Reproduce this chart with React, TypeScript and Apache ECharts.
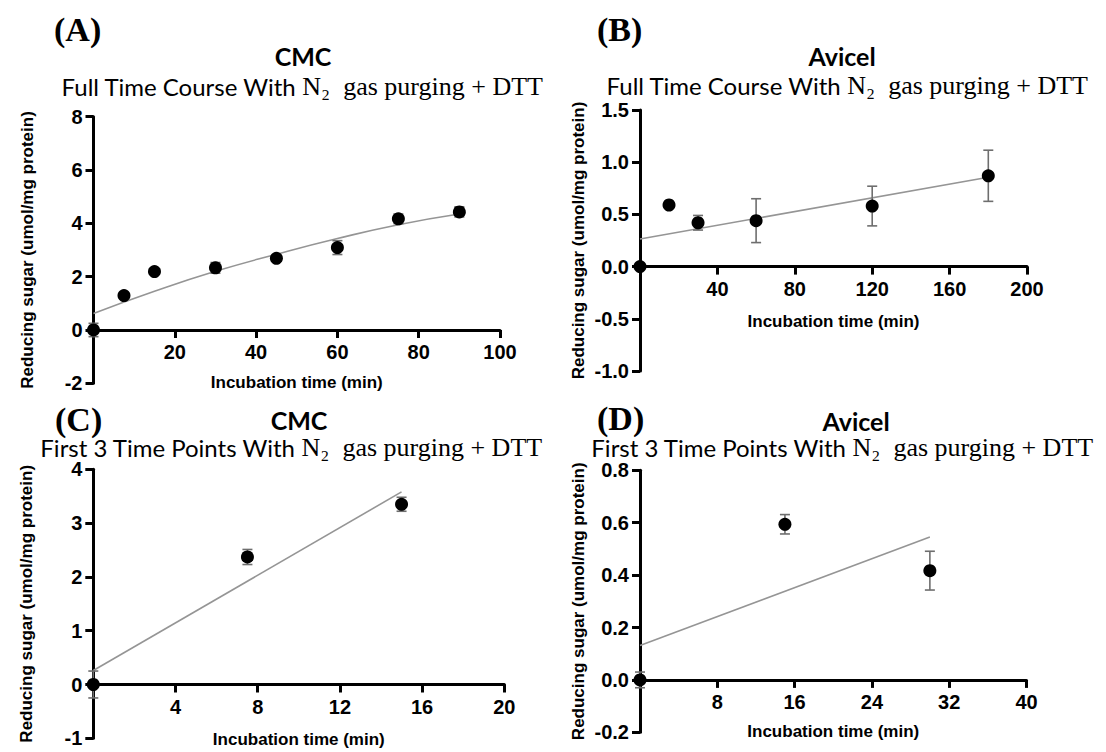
import React, { useEffect, useRef } from "react";
import * as echarts from "echarts";

// ---------- data ----------
// (A) CMC full time course
const cmcFullTime = [0, 7.5, 15, 30, 45, 60, 75, 90];
const cmcFullMean = [0, 1.29, 2.19, 2.33, 2.69, 3.09, 4.17, 4.43];
const cmcFullErr = [0.25, 0.08, 0.08, 0.2, 0.1, 0.26, 0.18, 0.19];
const cmcFullFitX = [0, 15, 30, 45, 60, 75, 90];
const cmcFullFitY = [0.62, 1.45, 2.2, 2.84, 3.43, 3.95, 4.35];

// (B) Avicel full time course
const avicelFullTime = [0, 15, 30, 60, 120, 180];
const avicelFullMean = [0, 0.59, 0.42, 0.44, 0.58, 0.87];
const avicelFullErr = [0.02, 0.02, 0.07, 0.21, 0.19, 0.245];
const avicelFullFitX = [0, 180];
const avicelFullFitY = [0.265, 0.856];

// (C) CMC first 3 time points
const cmcFirstTime = [0, 7.5, 15];
const cmcFirstMean = [0, 2.37, 3.35];
const cmcFirstErr = [0.25, 0.14, 0.13];
const cmcFirstFitX = [0, 15];
const cmcFirstFitY = [0.26, 3.58];

// (D) Avicel first 3 time points
const avicelFirstTime = [0, 15, 30];
const avicelFirstMean = [0, 0.594, 0.417];
const avicelFirstErr = [0.03, 0.037, 0.074];
const avicelFirstFitX = [0, 30];
const avicelFirstFitY = [0.131, 0.545];

// axis ranges / ticks
const xRanges = [
  { min: 0, max: 100, interval: 20 },
  { min: 0, max: 200, interval: 40 },
  { min: 0, max: 20, interval: 4 },
  { min: 0, max: 40, interval: 8 },
];
const yRanges = [
  { min: -2, max: 8, interval: 2, digits: 0 },
  { min: -1, max: 1.5, interval: 0.5, digits: 1 },
  { min: -1, max: 4, interval: 1, digits: 0 },
  { min: -0.2, max: 0.8, interval: 0.2, digits: 1 },
];

const panelLetters = ["(A)", "(B)", "(C)", "(D)"];
const panelTitles = ["CMC", "Avicel", "CMC", "Avicel"];
const panelSubtitles = [
  "Full Time Course With",
  "Full Time Course With",
  "First 3 Time Points With",
  "First 3 Time Points With",
];
const subtitleTail = "N\u2082  gas purging + DTT";
const xAxisTitle = "Incubation time (min)";
const yAxisTitle = "Reducing sugar (umol/mg protein)";

// ---------- layout ----------
const grids = [
  { left: 93.5, top: 116.7, width: 406.5, height: 266.6 },
  { left: 640, top: 110, width: 387, height: 261 },
  { left: 93.3, top: 469.3, width: 411, height: 269 },
  { left: 640, top: 470.3, width: 386.5, height: 262 },
];
const letterPos = [
  [54, 14],
  [597, 14],
  [55, 404],
  [597, 403],
];
const titlePos = [
  [303, 56],
  [842, 56],
  [299, 420],
  [856, 421],
];
const subtitlePos = [
  [302, 86],
  [847, 85],
  [291, 447],
  [842, 447],
];
const yNameGaps = [58, 53, 58, 53];
const xNameGaps = [44, 46, 46, 43];

const panels = [
  { t: cmcFullTime, m: cmcFullMean, e: cmcFullErr, fx: cmcFullFitX, fy: cmcFullFitY, smooth: true },
  { t: avicelFullTime, m: avicelFullMean, e: avicelFullErr, fx: avicelFullFitX, fy: avicelFullFitY, smooth: false },
  { t: cmcFirstTime, m: cmcFirstMean, e: cmcFirstErr, fx: cmcFirstFitX, fy: cmcFirstFitY, smooth: false },
  { t: avicelFirstTime, m: avicelFirstMean, e: avicelFirstErr, fx: avicelFirstFitX, fy: avicelFirstFitY, smooth: false },
];

const SANS = "'Liberation Sans', Arial, sans-serif";
const TITLE_SANS = "Lato, 'Noto Sans', sans-serif";
const SERIF = "'Liberation Serif', 'DejaVu Serif', 'Times New Roman', serif";
const ERR_COLOR = "#6e6e6e";
const FIT_COLOR = "#959595";

function buildOption() {
  const grid = grids.map((g) => ({ ...g, containLabel: false, outerBoundsMode: "none" }));

  const xAxis = xRanges.map((r, i) => {
    // the x axis crosses the y axis at y = 0 (move it up from the grid bottom)
    const y = yRanges[i];
    const zeroShift = (grids[i].height * (0 - y.min)) / (y.max - y.min);
    return {
      type: "value",
      gridIndex: i,
      position: "bottom",
      offset: -zeroShift,
      min: r.min,
      max: r.max,
      interval: r.interval,
      name: xAxisTitle,
      nameLocation: "middle",
      nameGap: xNameGaps[i],
      nameTextStyle: { fontFamily: SANS, fontWeight: "bold", fontSize: 17, color: "#000" },
      axisLine: { show: true, onZero: false, lineStyle: { color: "#000", width: 3 } },
      axisTick: { show: true, length: 8, inside: false, lineStyle: { color: "#000", width: 3 } },
      axisLabel: {
        margin: 12,
        fontFamily: SANS,
        fontWeight: "bold",
        fontSize: 20,
        color: "#000",
        formatter: (v: number) => (v === 0 ? "" : String(v)),
      },
      splitLine: { show: false },
    };
  });

  const yAxis = yRanges.map((r, i) => ({
    type: "value",
    gridIndex: i,
    position: "left",
    min: r.min,
    max: r.max,
    interval: r.interval,
    name: yAxisTitle,
    nameLocation: "middle",
    nameGap: yNameGaps[i],
    nameRotate: 90,
    nameTextStyle: { fontFamily: SANS, fontWeight: "bold", fontSize: 17, color: "#000" },
    axisLine: { show: true, onZero: false, lineStyle: { color: "#000", width: 3 } },
    axisTick: { show: true, length: 8, inside: false, lineStyle: { color: "#000", width: 3 } },
    axisLabel: {
      margin: 11,
      fontFamily: SANS,
      fontWeight: "bold",
      fontSize: 20,
      color: "#000",
      formatter: (v: number) => v.toFixed(r.digits),
    },
    splitLine: { show: false },
  }));

  const series: any[] = [];
  panels.forEach((p, i) => {
    series.push({
      type: "line",
      xAxisIndex: i,
      yAxisIndex: i,
      data: p.fx.map((x, k) => [x, p.fy[k]]),
      smooth: p.smooth,
      showSymbol: false,
      symbol: "none",
      lineStyle: { color: FIT_COLOR, width: 1.6 },
      z: 2,
      silent: true,
    });
    series.push({
      type: "custom",
      xAxisIndex: i,
      yAxisIndex: i,
      data: p.t.map((x, k) => [x, p.m[k] - p.e[k], p.m[k] + p.e[k]]),
      encode: { x: 0, y: [1, 2] },
      clip: false,
      z: 3,
      renderItem: (params: any, api: any) => {
        const x = api.value(0);
        const lo = api.coord([x, api.value(1)]);
        const hi = api.coord([x, api.value(2)]);
        const hw = 5;
        const style = { stroke: ERR_COLOR, lineWidth: 1.6 };
        return {
          type: "group",
          children: [
            { type: "line", shape: { x1: hi[0], y1: hi[1], x2: lo[0], y2: lo[1] }, style },
            { type: "line", shape: { x1: hi[0] - hw, y1: hi[1], x2: hi[0] + hw, y2: hi[1] }, style },
            { type: "line", shape: { x1: lo[0] - hw, y1: lo[1], x2: lo[0] + hw, y2: lo[1] }, style },
          ],
        };
      },
    });
    series.push({
      type: "scatter",
      xAxisIndex: i,
      yAxisIndex: i,
      data: p.t.map((x, k) => [x, p.m[k]]),
      symbol: "circle",
      symbolSize: 13,
      itemStyle: { color: "#000", opacity: 1 },
      clip: false,
      z: 5,
    });
  });

  const graphic: any[] = [];
  for (let i = 0; i < 4; i++) {
    graphic.push({
      type: "text",
      x: letterPos[i][0],
      y: letterPos[i][1],
      style: {
        text: panelLetters[i],
        fontFamily: SERIF,
        fontWeight: "bold",
        fontSize: 34,
        lineHeight: 30,
        fill: "#000",
        align: "left",
        verticalAlign: "top",
      },
    });
    graphic.push({
      type: "text",
      x: titlePos[i][0],
      y: titlePos[i][1],
      style: {
        text: panelTitles[i],
        fontFamily: TITLE_SANS,
        fontWeight: "bold",
        fontSize: 25,
        lineHeight: 24,
        fill: "#000",
        align: "center",
        verticalAlign: "middle",
      },
    });
    graphic.push({
      type: "text",
      x: subtitlePos[i][0],
      y: subtitlePos[i][1],
      style: {
        text: `{s|${panelSubtitles[i]} }{m|${subtitleTail}}`,
        align: "center",
        verticalAlign: "middle",
        rich: {
          s: { fontFamily: TITLE_SANS, fontSize: 24, fill: "#000", lineHeight: 22 },
          m: { fontFamily: SERIF, fontSize: 26, fill: "#000", lineHeight: 22 },
        },
      },
    });
  }

  return {
    animation: false,
    backgroundColor: "#fff",
    grid,
    xAxis,
    yAxis,
    series,
    graphic,
  };
}

export default function App() {
  const ref = useRef<HTMLDivElement>(null);
  useEffect(() => {
    if (!ref.current) return;
    const chart = echarts.init(ref.current, undefined, { renderer: "svg" });
    chart.setOption(buildOption() as any);
    return () => chart.dispose();
  }, []);
  return (
    <div
      ref={ref}
      style={{ position: "fixed", left: 0, top: 0, width: 1106, height: 752, background: "#fff" }}
    />
  );
}
